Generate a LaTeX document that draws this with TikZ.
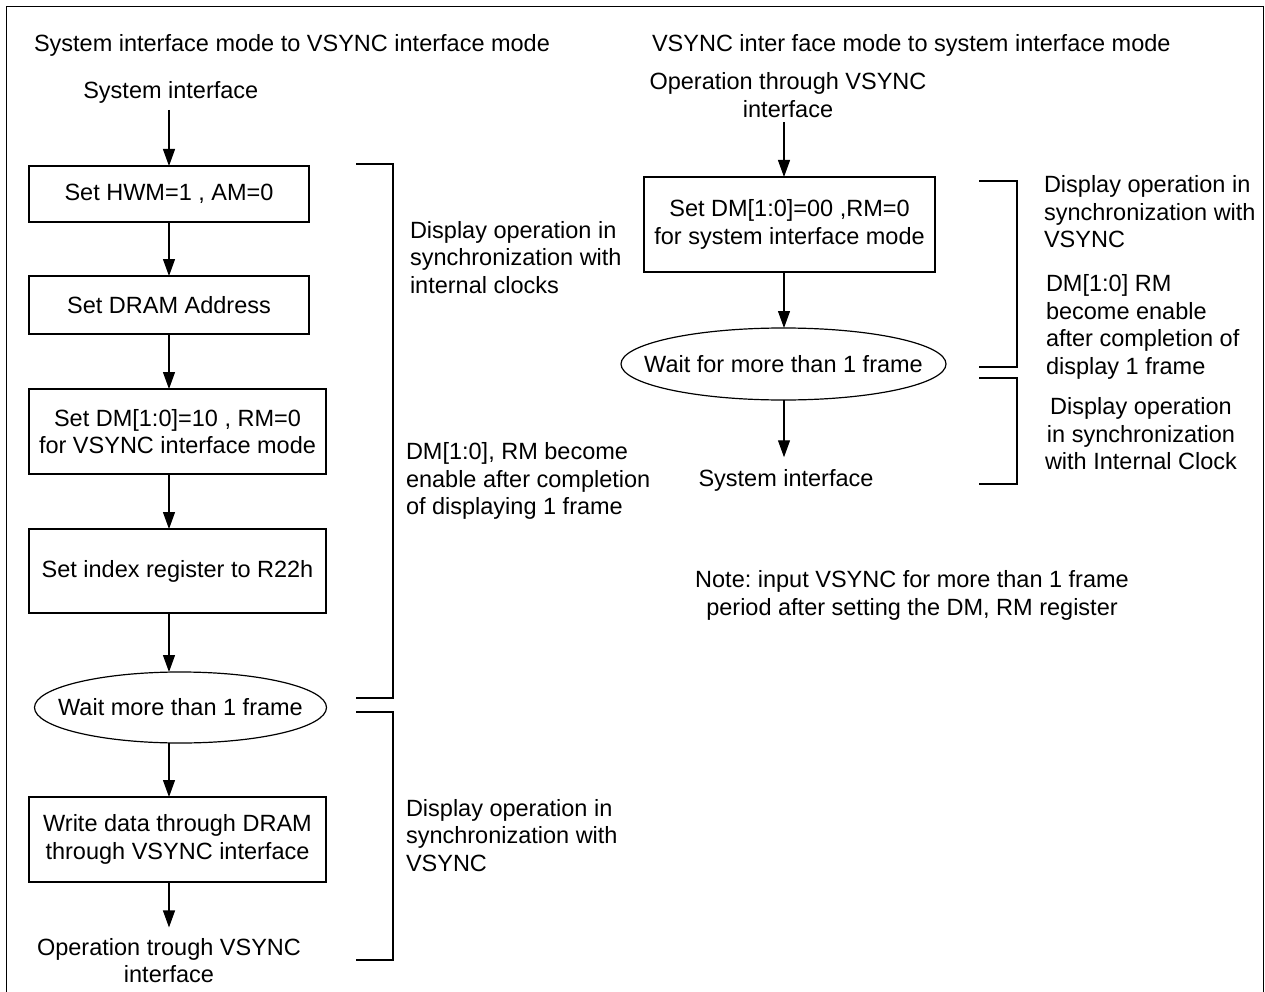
\documentclass[tikz,border=0pt]{standalone}
\usepackage{fontspec}
\setmainfont{Liberation Sans}
\frenchspacing
\usetikzlibrary{arrows.meta,shapes.geometric}
\begin{document}
\begin{tikzpicture}[x=1pt,y=-1pt,
  every node/.style={font=\fontsize{23.5}{27.5}\selectfont, inner sep=0pt, outer sep=0pt},
  box/.style={draw, line width=1.2pt, align=center},
  oval/.style={draw, ellipse, line width=1.2pt, inner sep=0pt},
  lbl/.style={align=center},
  side/.style={align=left, anchor=west},
  flow/.style={-{Triangle[length=17pt,width=12pt]}, line width=1.2pt},
  brk/.style={line width=1.2pt}]
\useasboundingbox (0,0) rectangle (1265,992);
\draw[line width=1.2pt] (6.5,995) -- (6.5,6.5) -- (1263.5,6.5) -- (1263.5,995);

% ---------- left flow ----------
\node[side] (t1) at (34,45) {System interface mode to VSYNC interface mode};
\node[lbl] (sysL) at (170.8,92.3) {System interface};
\node[box, minimum width=280pt, minimum height=56pt] (b1) at (169,194) {Set HWM=1 , AM=0};
\node[box, minimum width=280pt, minimum height=58pt] (b2) at (169,305) {Set DRAM Address};
\node[box, minimum width=297pt, minimum height=85pt] (b3) at (177.5,431.5) {Set DM[1:0]=10 , RM=0\\for VSYNC interface mode};
\node[box, minimum width=297pt, minimum height=84pt] (b4) at (177.5,571) {Set index register to R22h};
\node[oval, minimum width=292pt, minimum height=71pt] (e1) at (180.5,707.5) {\makebox[0pt]{Wait more than 1 frame}};
\node[box, minimum width=297pt, minimum height=85pt] (b5) at (177.5,839.5) {Write data through DRAM\\through VSYNC interface};
\node[lbl] (opL) at (169,960.8) {Operation trough VSYNC\\interface};

\draw[flow, shorten <=6.7pt] (sysL.south -| b1.south) -- (b1.north);
\draw[flow] (b1.south) -- (b2.north);
\draw[flow] (b2.south) -- (b2.south |- b3.north);
\draw[flow] (b2.south |- b3.south) -- (b2.south |- b4.north);
\draw[flow] (b2.south |- b4.south) -- (b2.south |- e1.north);
\draw[flow] (b2.south |- e1.south) -- (b2.south |- b5.north);
\draw[flow, shorten >=11pt] (b2.south |- b5.south) -- (b2.south |- opL.north);

% left brackets
\draw[brk] (356,164) -- (393,164) -- (393,698) -- (356,698);
\draw[brk] (356,712) -- (393,712) -- (393,960) -- (356,960);
\node[side] (n1) at (410,257.3) {Display operation in\\synchronization with\\internal clocks};
\node[side] (n2) at (406,481.2) {DM[1:0], RM become\\enable after completion\\of displaying 1 frame};
\node[side] (n3) at (406,835.3) {Display operation in\\synchronization with\\VSYNC};

% ---------- right flow ----------
\node[side] (t2) at (652,45) {VSYNC inter face mode to system interface mode};
\node[lbl] (opR) at (788,95.3) {Operation through VSYNC\\interface};
\node[box, minimum width=291pt, minimum height=95pt] (r1) at (789.5,224.5) {Set DM[1:0]=00 ,RM=0\\for system interface mode};
\node[oval, minimum width=325pt, minimum height=72pt] (e2) at (783.5,364) {\makebox[0pt]{Wait for more than 1 frame}};
\node[lbl] (sysR) at (786,480.2) {System interface};
\coordinate (ax) at (784,0);
\draw[flow, shorten <=4.6pt] (ax |- opR.south) -- (ax |- r1.north);
\draw[flow] (ax |- r1.south) -- (ax |- e2.north);
\draw[flow, shorten >=12pt] (ax |- e2.south) -- (ax |- sysR.north);

% right brackets
\draw[brk] (979,181) -- (1017,181) -- (1017,367) -- (979,367);
\draw[brk] (979,378) -- (1017,378) -- (1017,484) -- (979,484);
\node[side] (m1) at (1044,211.8) {Display operation in\\synchronization with\\VSYNC};
\node[side] (m2) at (1046,326.7) {DM[1:0] RM\\become enable\\after completion of\\display 1 frame};
\node[lbl] (m3) at (1141,433.8) {Display operation\\in synchronization\\with Internal Clock};
\node[lbl] (note) at (912,595.3) {Note: input VSYNC for more than 1 frame\\period after setting the DM, RM register};
\end{tikzpicture}
\end{document}
